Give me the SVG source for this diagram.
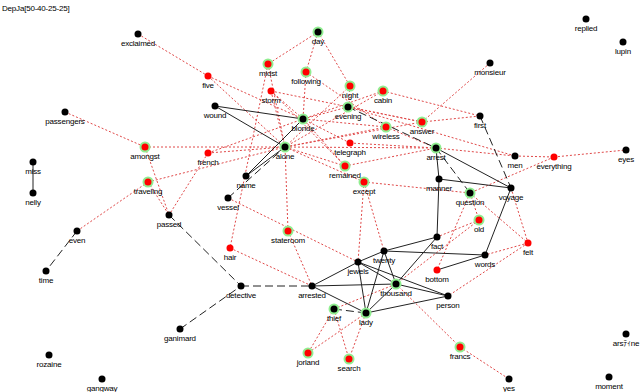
<svg xmlns="http://www.w3.org/2000/svg" width="640" height="392" viewBox="0 0 640 392">
<style>
.r{stroke:#e04848;stroke-width:1;stroke-dasharray:2 2;fill:none}
.k{stroke:#222;stroke-width:1;fill:none}
.kd{stroke:#222;stroke-width:1;stroke-dasharray:8 4;fill:none}
.h{fill:#90ee90}
.b{fill:#000}
.rd{fill:#ff0000}
text{font-family:"Liberation Sans","Noto Sans CJK JP",sans-serif;font-size:8px;letter-spacing:-0.2px;text-anchor:middle;fill:#000}
.title{text-anchor:start}
</style>
<rect width="640" height="392" fill="#fff"/>
<text class="title" x="2" y="11">DepJa[50-40-25-25]</text>
<g id="edges">
<!-- red dotted -->
<line class="r" x1="138" y1="34" x2="208" y2="76"/>
<line class="r" x1="208" y1="76" x2="303" y2="119"/>
<line class="r" x1="208" y1="76" x2="285" y2="147"/>
<line class="r" x1="65" y1="112" x2="145" y2="147"/>
<line class="r" x1="145" y1="147" x2="285" y2="147"/>
<line class="r" x1="145" y1="147" x2="169" y2="215"/>
<line class="r" x1="148" y1="182" x2="285" y2="147"/>
<line class="r" x1="148" y1="182" x2="77" y2="231"/>
<line class="r" x1="148" y1="182" x2="169" y2="215"/>
<line class="r" x1="208" y1="153" x2="169" y2="215"/>
<line class="r" x1="208" y1="153" x2="303" y2="119"/>
<line class="r" x1="208" y1="153" x2="285" y2="147"/>
<line class="r" x1="318" y1="32" x2="268" y2="64"/>
<line class="r" x1="318" y1="32" x2="306" y2="72"/>
<line class="r" x1="318" y1="32" x2="350" y2="86"/>
<line class="r" x1="268" y1="64" x2="285" y2="147"/>
<line class="r" x1="268" y1="64" x2="230" y2="248"/>
<line class="r" x1="306" y1="72" x2="303" y2="119"/>
<line class="r" x1="306" y1="72" x2="386" y2="127"/>
<line class="r" x1="271" y1="91" x2="303" y2="119"/>
<line class="r" x1="271" y1="91" x2="285" y2="147"/>
<line class="r" x1="271" y1="91" x2="422" y2="122"/>
<line class="r" x1="271" y1="91" x2="345" y2="166"/>
<line class="r" x1="350" y1="86" x2="348" y2="107"/>
<line class="r" x1="350" y1="86" x2="285" y2="147"/>
<line class="r" x1="383" y1="91" x2="303" y2="119"/>
<line class="r" x1="383" y1="91" x2="480" y2="116"/>
<line class="r" x1="383" y1="91" x2="285" y2="147"/>
<line class="r" x1="348" y1="107" x2="303" y2="119"/>
<line class="r" x1="348" y1="107" x2="515" y2="156"/>
<line class="r" x1="386" y1="127" x2="303" y2="119"/>
<line class="r" x1="386" y1="127" x2="285" y2="147"/>
<line class="r" x1="386" y1="127" x2="436" y2="148"/>
<line class="r" x1="422" y1="122" x2="285" y2="147"/>
<line class="r" x1="422" y1="122" x2="480" y2="116"/>
<line class="r" x1="422" y1="122" x2="490" y2="63"/>
<line class="r" x1="422" y1="122" x2="348" y2="107"/>
<line class="r" x1="350" y1="143" x2="303" y2="119"/>
<line class="r" x1="350" y1="143" x2="436" y2="148"/>
<line class="r" x1="345" y1="166" x2="285" y2="147"/>
<line class="r" x1="345" y1="166" x2="436" y2="148"/>
<line class="r" x1="345" y1="166" x2="303" y2="119"/>
<line class="r" x1="364" y1="182" x2="285" y2="147"/>
<line class="r" x1="364" y1="182" x2="470" y2="193"/>
<line class="r" x1="364" y1="182" x2="358" y2="262"/>
<line class="r" x1="364" y1="182" x2="384" y2="251"/>
<line class="r" x1="288" y1="231" x2="285" y2="147"/>
<line class="r" x1="288" y1="231" x2="312" y2="286"/>
<line class="r" x1="228" y1="198" x2="358" y2="262"/>
<line class="r" x1="230" y1="248" x2="312" y2="286"/>
<line class="r" x1="436" y1="148" x2="515" y2="156"/>
<line class="r" x1="436" y1="148" x2="285" y2="147"/>
<line class="r" x1="515" y1="156" x2="554" y2="157"/>
<line class="r" x1="554" y1="157" x2="626" y2="150"/>
<line class="r" x1="554" y1="157" x2="470" y2="193"/>
<line class="r" x1="470" y1="193" x2="479" y2="220"/>
<line class="r" x1="470" y1="193" x2="437" y2="270"/>
<line class="r" x1="470" y1="193" x2="528" y2="243"/>
<line class="r" x1="511" y1="188" x2="528" y2="243"/>
<line class="r" x1="479" y1="220" x2="437" y2="237"/>
<line class="r" x1="479" y1="220" x2="396" y2="284"/>
<line class="r" x1="528" y1="243" x2="485" y2="255"/>
<line class="r" x1="528" y1="243" x2="448" y2="296"/>
<line class="r" x1="396" y1="284" x2="460" y2="347"/>
<line class="r" x1="460" y1="347" x2="509" y2="379"/>
<line class="r" x1="334" y1="309" x2="396" y2="284"/>
<line class="r" x1="334" y1="309" x2="349" y2="359"/>
<line class="r" x1="334" y1="309" x2="308" y2="353"/>
<line class="r" x1="366" y1="313" x2="349" y2="359"/>
<line class="r" x1="366" y1="313" x2="308" y2="353"/>
<!-- black -->
<line class="k" x1="33" y1="162" x2="33" y2="193"/>
<line class="kd" x1="77" y1="231" x2="46" y2="271"/>
<line class="kd" x1="169" y1="215" x2="241" y2="286"/>
<line class="kd" x1="180" y1="329" x2="241" y2="286"/>
<line class="kd" x1="241" y1="286" x2="312" y2="286"/>
<line class="k" x1="215" y1="106" x2="303" y2="119"/>
<line class="k" x1="215" y1="106" x2="285" y2="147"/>
<line class="k" x1="246" y1="176" x2="303" y2="119"/>
<line class="k" x1="246" y1="176" x2="285" y2="147"/>
<line class="kd" x1="228" y1="198" x2="285" y2="147"/>
<line class="kd" x1="348" y1="107" x2="436" y2="148"/>
<line class="k" x1="436" y1="148" x2="511" y2="188"/>
<line class="k" x1="436" y1="148" x2="439" y2="179"/>
<line class="kd" x1="436" y1="148" x2="470" y2="193"/>
<line class="k" x1="439" y1="179" x2="511" y2="188"/>
<line class="k" x1="439" y1="179" x2="437" y2="237"/>
<line class="kd" x1="480" y1="116" x2="511" y2="188"/>
<line class="k" x1="511" y1="188" x2="485" y2="255"/>
<line class="k" x1="312" y1="286" x2="358" y2="262"/>
<line class="k" x1="358" y1="262" x2="384" y2="251"/>
<line class="k" x1="384" y1="251" x2="437" y2="237"/>
<line class="k" x1="384" y1="251" x2="485" y2="255"/>
<line class="k" x1="312" y1="286" x2="396" y2="284"/>
<line class="k" x1="312" y1="286" x2="366" y2="313"/>
<line class="k" x1="358" y1="262" x2="366" y2="313"/>
<line class="k" x1="384" y1="251" x2="366" y2="313"/>
<line class="k" x1="384" y1="251" x2="396" y2="284"/>
<line class="k" x1="358" y1="262" x2="396" y2="284"/>
<line class="k" x1="358" y1="262" x2="448" y2="296"/>
<line class="k" x1="396" y1="284" x2="437" y2="237"/>
<line class="k" x1="396" y1="284" x2="366" y2="313"/>
<line class="k" x1="366" y1="313" x2="448" y2="296"/>
<line class="k" x1="396" y1="284" x2="448" y2="296"/>
<line class="k" x1="437" y1="270" x2="485" y2="255"/>
<line class="kd" x1="334" y1="309" x2="366" y2="313"/>
</g>
<g id="n-exclaimed"><circle class="b" cx="138" cy="34" r="3.5"/><text x="138" y="46">exclaimed</text></g>
<g id="n-five"><circle class="rd" cx="208" cy="76" r="3.5"/><text x="208" y="88">five</text></g>
<g id="n-passengers"><circle class="b" cx="65" cy="112" r="3.5"/><text x="65" y="124">passengers</text></g>
<g id="n-miss"><circle class="b" cx="33" cy="162" r="3.5"/><text x="33" y="174">miss</text></g>
<g id="n-nelly"><circle class="b" cx="33" cy="193" r="3.5"/><text x="33" y="205">nelly</text></g>
<g id="n-amongst"><circle class="h" cx="145" cy="147" r="5.5"/><circle class="rd" cx="145" cy="147" r="3.5"/><text x="145" y="159">amongst</text></g>
<g id="n-french"><circle class="rd" cx="208" cy="153" r="3.5"/><text x="208" y="165">french</text></g>
<g id="n-traveling"><circle class="h" cx="148" cy="182" r="5.5"/><circle class="rd" cx="148" cy="182" r="3.5"/><text x="148" y="194">traveling</text></g>
<g id="n-even"><circle class="b" cx="77" cy="231" r="3.5"/><text x="77" y="243">even</text></g>
<g id="n-time"><circle class="b" cx="46" cy="271" r="3.5"/><text x="46" y="283">time</text></g>
<g id="n-passed"><circle class="b" cx="169" cy="215" r="3.5"/><text x="169" y="227">passed</text></g>
<g id="n-ganimard"><circle class="b" cx="180" cy="329" r="3.5"/><text x="180" y="341">ganimard</text></g>
<g id="n-rozaine"><circle class="b" cx="49" cy="355" r="3.5"/><text x="49" y="367">rozaine</text></g>
<g id="n-gangway"><circle class="b" cx="102" cy="379" r="3.5"/><text x="102" y="391">gangway</text></g>
<g id="n-day"><circle class="h" cx="318" cy="32" r="5.5"/><circle class="b" cx="318" cy="32" r="3.5"/><text x="318" y="44">day</text></g>
<g id="n-midst"><circle class="h" cx="268" cy="64" r="5.5"/><circle class="rd" cx="268" cy="64" r="3.5"/><text x="268" y="76">midst</text></g>
<g id="n-following"><circle class="h" cx="306" cy="72" r="5.5"/><circle class="rd" cx="306" cy="72" r="3.5"/><text x="306" y="84">following</text></g>
<g id="n-storm"><circle class="rd" cx="271" cy="91" r="3.5"/><text x="271" y="103">storm</text></g>
<g id="n-night"><circle class="h" cx="350" cy="86" r="5.5"/><circle class="rd" cx="350" cy="86" r="3.5"/><text x="350" y="98">night</text></g>
<g id="n-cabin"><circle class="h" cx="383" cy="91" r="5.5"/><circle class="rd" cx="383" cy="91" r="3.5"/><text x="383" y="103">cabin</text></g>
<g id="n-wound"><circle class="b" cx="215" cy="106" r="3.5"/><text x="215" y="118">wound</text></g>
<g id="n-evening"><circle class="h" cx="348" cy="107" r="5.5"/><circle class="b" cx="348" cy="107" r="3.5"/><text x="348" y="119">evening</text></g>
<g id="n-blonde"><circle class="h" cx="303" cy="119" r="5.5"/><circle class="b" cx="303" cy="119" r="3.5"/><text x="303" y="131">blonde</text></g>
<g id="n-wireless"><circle class="h" cx="386" cy="127" r="5.5"/><circle class="rd" cx="386" cy="127" r="3.5"/><text x="386" y="139">wireless</text></g>
<g id="n-alone"><circle class="h" cx="285" cy="147" r="5.5"/><circle class="b" cx="285" cy="147" r="3.5"/><text x="285" y="159">alone</text></g>
<g id="n-telegraph"><circle class="rd" cx="350" cy="143" r="3.5"/><text x="350" y="155">telegraph</text></g>
<g id="n-remained"><circle class="h" cx="345" cy="166" r="5.5"/><circle class="rd" cx="345" cy="166" r="3.5"/><text x="345" y="178">remained</text></g>
<g id="n-except"><circle class="h" cx="364" cy="182" r="5.5"/><circle class="rd" cx="364" cy="182" r="3.5"/><text x="364" y="194">except</text></g>
<g id="n-name"><circle class="b" cx="246" cy="176" r="3.5"/><text x="246" y="188">name</text></g>
<g id="n-vessel"><circle class="b" cx="228" cy="198" r="3.5"/><text x="228" y="210">vessel</text></g>
<g id="n-stateroom"><circle class="h" cx="288" cy="231" r="5.5"/><circle class="rd" cx="288" cy="231" r="3.5"/><text x="288" y="243">stateroom</text></g>
<g id="n-hair"><circle class="rd" cx="230" cy="248" r="3.5"/><text x="230" y="260">hair</text></g>
<g id="n-detective"><circle class="b" cx="241" cy="286" r="3.5"/><text x="241" y="298">detective</text></g>
<g id="n-arrested"><circle class="b" cx="312" cy="286" r="3.5"/><text x="312" y="298">arrested</text></g>
<g id="n-jewels"><circle class="b" cx="358" cy="262" r="3.5"/><text x="358" y="274">jewels</text></g>
<g id="n-twenty"><circle class="b" cx="384" cy="251" r="3.5"/><text x="384" y="263">twenty</text></g>
<g id="n-thousand"><circle class="h" cx="396" cy="284" r="5.5"/><circle class="b" cx="396" cy="284" r="3.5"/><text x="396" y="296">thousand</text></g>
<g id="n-thief"><circle class="h" cx="334" cy="309" r="5.5"/><circle class="b" cx="334" cy="309" r="3.5"/><text x="334" y="321">thief</text></g>
<g id="n-lady"><circle class="h" cx="366" cy="313" r="5.5"/><circle class="b" cx="366" cy="313" r="3.5"/><text x="366" y="325">lady</text></g>
<g id="n-jorland"><circle class="h" cx="308" cy="353" r="5.5"/><circle class="rd" cx="308" cy="353" r="3.5"/><text x="308" y="365">jorland</text></g>
<g id="n-search"><circle class="h" cx="349" cy="359" r="5.5"/><circle class="rd" cx="349" cy="359" r="3.5"/><text x="349" y="371">search</text></g>
<g id="n-monsieur"><circle class="b" cx="490" cy="63" r="3.5"/><text x="490" y="75">monsieur</text></g>
<g id="n-replied"><circle class="b" cx="586" cy="19" r="3.5"/><text x="586" y="31">replied</text></g>
<g id="n-lupin"><circle class="b" cx="623" cy="42" r="3.5"/><text x="623" y="54">lupin</text></g>
<g id="n-first"><circle class="b" cx="480" cy="116" r="3.5"/><text x="480" y="128">first</text></g>
<g id="n-answer"><circle class="h" cx="422" cy="122" r="5.5"/><circle class="rd" cx="422" cy="122" r="3.5"/><text x="422" y="134">answer</text></g>
<g id="n-arrest"><circle class="h" cx="436" cy="148" r="5.5"/><circle class="b" cx="436" cy="148" r="3.5"/><text x="436" y="160">arrest</text></g>
<g id="n-men"><circle class="b" cx="515" cy="156" r="3.5"/><text x="515" y="168">men</text></g>
<g id="n-everything"><circle class="rd" cx="554" cy="157" r="3.5"/><text x="554" y="169">everything</text></g>
<g id="n-eyes"><circle class="b" cx="626" cy="150" r="3.5"/><text x="626" y="162">eyes</text></g>
<g id="n-manner"><circle class="b" cx="439" cy="179" r="3.5"/><text x="439" y="191">manner</text></g>
<g id="n-question"><circle class="h" cx="470" cy="193" r="5.5"/><circle class="b" cx="470" cy="193" r="3.5"/><text x="470" y="205">question</text></g>
<g id="n-voyage"><circle class="b" cx="511" cy="188" r="3.5"/><text x="511" y="200">voyage</text></g>
<g id="n-old"><circle class="h" cx="479" cy="220" r="5.5"/><circle class="rd" cx="479" cy="220" r="3.5"/><text x="479" y="232">old</text></g>
<g id="n-fact"><circle class="b" cx="437" cy="237" r="3.5"/><text x="437" y="249">fact</text></g>
<g id="n-felt"><circle class="rd" cx="528" cy="243" r="3.5"/><text x="528" y="255">felt</text></g>
<g id="n-words"><circle class="b" cx="485" cy="255" r="3.5"/><text x="485" y="267">words</text></g>
<g id="n-bottom"><circle class="rd" cx="437" cy="270" r="3.5"/><text x="437" y="282">bottom</text></g>
<g id="n-person"><circle class="b" cx="448" cy="296" r="3.5"/><text x="448" y="308">person</text></g>
<g id="n-francs"><circle class="h" cx="460" cy="347" r="5.5"/><circle class="rd" cx="460" cy="347" r="3.5"/><text x="460" y="359">francs</text></g>
<g id="n-yes"><circle class="b" cx="509" cy="379" r="3.5"/><text x="509" y="391">yes</text></g>
<g id="n-arsene"><circle class="b" cx="626" cy="334" r="3.5"/><text x="626" y="346">arsﾃｨne</text></g>
<g id="n-moment"><circle class="b" cx="609" cy="377" r="3.5"/><text x="609" y="389">moment</text></g>
</svg>
